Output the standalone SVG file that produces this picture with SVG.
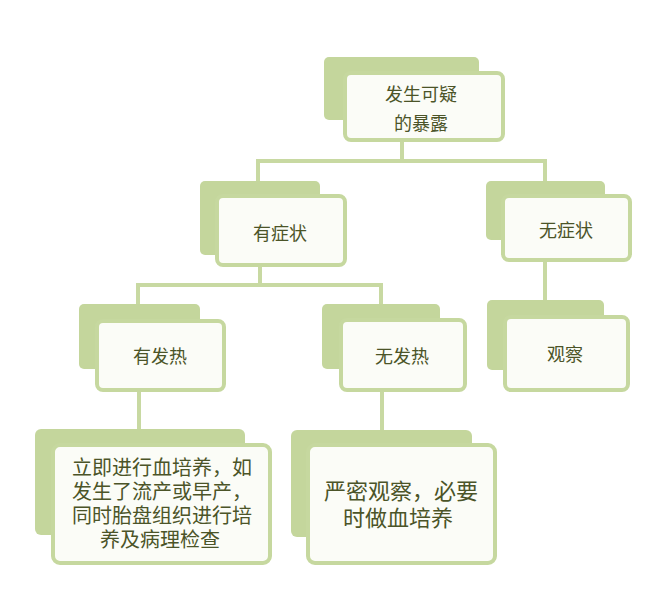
<svg xmlns="http://www.w3.org/2000/svg" width="664" height="598" viewBox="0 0 664 598">
<style>
.back{fill:#c4d69c;}
.front{fill:#fbfcf7;stroke:#c6d89f;stroke-width:4;}
.conn{fill:none;stroke:#c8d9a2;stroke-width:4;}
text{font-family:"Liberation Sans","Noto Sans CJK SC","Noto Sans CJK TC",sans-serif;fill:#4b5428;text-anchor:middle;dominant-baseline:central;}
.t18{font-size:18px;}
.t21{font-size:20px;}
.t22{font-size:22px;}
</style>
<rect width="664" height="598" fill="#ffffff"/>
<g id="connectors">
<path class="conn" d="M402 140V161M258 161H545M258 159V182M545 159V182"/>
<path class="conn" d="M260 265V285M138 285H381M138 283V305M381 283V305"/>
<path class="conn" d="M545 260V301"/>
<path class="conn" d="M139 390V431M382 390V431"/>
</g>
<g id="n_exposure">
<rect class="back" x="324" y="57" width="155" height="63" rx="5"/>
<rect class="front" x="345" y="73" width="158" height="67" rx="6"/>
<text class="t18" x="421" y="95">发生可疑</text>
<text class="t18" x="421" y="124">的暴露</text>
</g>
<g id="n_symptom">
<rect class="back" x="200" y="181" width="120" height="74" rx="5"/>
<rect class="front" x="217" y="196" width="128" height="69" rx="6"/>
<text class="t18" x="280" y="234">有症状</text>
</g>
<g id="n_nosymptom">
<rect class="back" x="486" y="181" width="119" height="59" rx="5"/>
<rect class="front" x="503" y="196" width="127" height="64" rx="6"/>
<text class="t18" x="566" y="231">无症状</text>
</g>
<g id="n_observe">
<rect class="back" x="487" y="300" width="117" height="70" rx="5"/>
<rect class="front" x="505" y="317" width="123" height="73" rx="6"/>
<text class="t18" x="565" y="355">观察</text>
</g>
<g id="n_fever">
<rect class="back" x="79" y="304" width="121" height="65" rx="5"/>
<rect class="front" x="97" y="321" width="127" height="69" rx="6"/>
<text class="t18" x="160" y="357">有发热</text>
</g>
<g id="n_nofever">
<rect class="back" x="322" y="304" width="118" height="65" rx="5"/>
<rect class="front" x="341" y="320" width="124" height="70" rx="6"/>
<text class="t18" x="402" y="357">无发热</text>
</g>
<g id="n_culture">
<rect class="back" x="35" y="429" width="210" height="106" rx="6"/>
<rect class="front" x="53" y="445" width="217" height="118" rx="7"/>
<text class="t21" x="162" y="468">立即进行血培养，如</text>
<text class="t21" x="162" y="492">发生了流产或早产，</text>
<text class="t21" x="162" y="516">同时胎盘组织进行培</text>
<text class="t21" x="160" y="540">养及病理检查</text>
</g>
<g id="n_close">
<rect class="back" x="291" y="430" width="181" height="107" rx="6"/>
<rect class="front" x="308" y="445" width="187" height="118" rx="7"/>
<text class="t22" x="401" y="491">严密观察，必要</text>
<text class="t22" x="398" y="518">时做血培养</text>
</g>
</svg>
